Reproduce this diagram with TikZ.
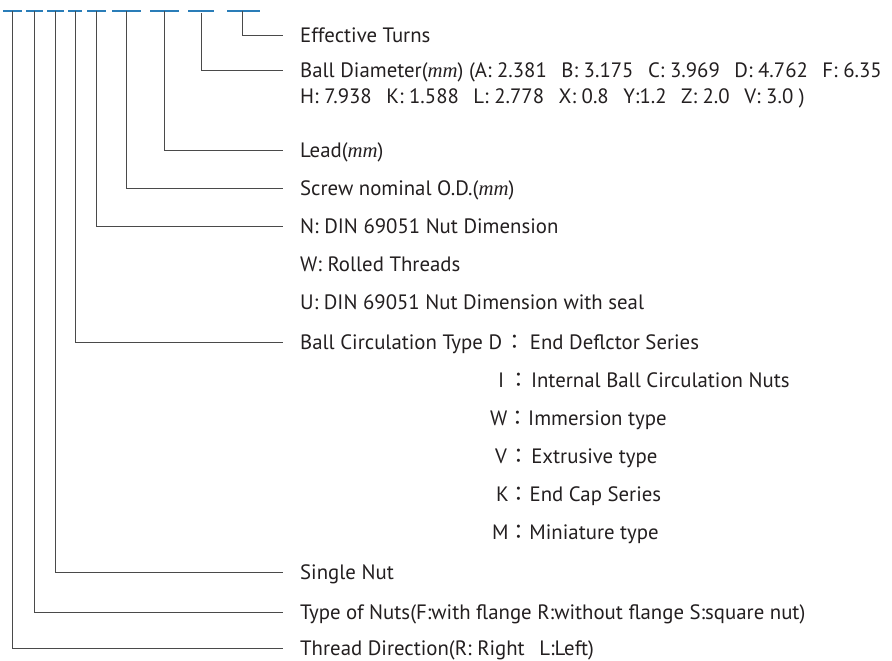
\documentclass[tikz,border=0pt]{standalone}
\usepackage{fontspec}
\setmainfont{PT Sans}
\newfontfamily\cjk{Noto Sans CJK JP}
\newfontfamily\mmfont{Liberation Serif}
\newcommand{\mmunit}{({\mmfont\itshape mm})}
\newcommand{\wide}{\hspace{0.7em}}
\definecolor{codeblue}{HTML}{2A7DB8}
\definecolor{leadgray}{HTML}{4A4A4A}
\definecolor{textgray}{HTML}{231F20}

\begin{document}
\begin{tikzpicture}[x=1pt,y=-1pt,
    codemark/.style={draw=codeblue, line width=1.1pt},
    leader/.style={draw=leadgray, line width=0.9pt},
    item/.style={anchor=west, inner sep=0pt, text height=14.5pt, text depth=0pt,
      text=textgray, font=\fontsize{20.8}{24}\selectfont}]
    \useasboundingbox (0,0) rectangle (892,661);

    % code places on top
    \foreach \a/\b/\n in {3/22/1, 26/43/2, 47/64/3, 68/82/4, 87/106/5,
        112/141/6, 150/179/7, 188/214/8, 227/260/9} {
        \draw[codemark] (\a,11) -- (\b,11);
    }
    \coordinate (c1) at (12.7,11);
    \coordinate (c2) at (34.7,11);
    \coordinate (c3) at (55.7,11);
    \coordinate (c4) at (75.3,11);
    \coordinate (c5) at (96.7,11);
    \coordinate (c6) at (126.7,11);
    \coordinate (c7) at (164.7,11);
    \coordinate (c8) at (201.3,13);
    \coordinate (c9) at (242.3,11);

    % labels
    \node[item] (turns) at (300,35) {Effective Turns};
    \node[item] (ball) at (300,70) {Ball Diameter\mmunit{} (A: 2.381\wide B: 3.175\wide C: 3.969\wide D: 4.762\wide F: 6.35};
    \node[item] (balltail) at (300,96) {H: 7.938\wide K: 1.588\wide L: 2.778\wide X: 0.8\wide Y:1.2\wide Z: 2.0\wide V: 3.0 )};
    \node[item] (lead) at (300,150) {Lead\mmunit};
    \node[item] (screw) at (300,188) {Screw nominal O.D.\mmunit};
    \node[item] (dinn) at (300,226) {N: DIN 69051 Nut Dimension};
    \node[item] (rolled) at (300,264) {W: Rolled Threads};
    \node[item] (dinu) at (300,302) {U: DIN 69051 Nut Dimension with seal};
    \node[item] (circ) at (300,342) {Ball Circulation Type D\hspace{2pt}{\cjk ：}\hspace{5pt}End Deflctor Series};
    \node[item] (circi) at (498,380) {I\hspace{4.5pt}{\cjk ：}\hspace{1.5pt}Internal Ball Circulation Nuts};
    \node[item] (circw) at (490,418) {W{\cjk ：}Immersion type};
    \node[item] (circv) at (495,456) {V\hspace{1pt}{\cjk ：}\hspace{2.5pt}Extrusive type};
    \node[item] (circk) at (496,494) {K{\cjk ：}End Cap Series};
    \node[item] (circm) at (492,532) {M{\cjk ：}Miniature type};
    \node[item] (single) at (300,572) {Single Nut};
    \node[item] (nuts) at (300,612) {Type of Nuts(F:with flange R:without flange S:square nut)};
    \node[item] (thread) at (300,648) {Thread Direction(R: Right\wide L:Left)};

    % leaders from code places to labels
    \draw[leader] (c9) |- ([xshift=-17pt]turns.west);
    \draw[leader] (c8) |- ([xshift=-17pt]ball.west);
    \draw[leader] (c7) |- ([xshift=-17pt]lead.west);
    \draw[leader] (c6) |- ([xshift=-17pt]screw.west);
    \draw[leader] (c5) |- ([xshift=-17pt]dinn.west);
    \draw[leader] (c4) |- ([xshift=-17pt]circ.west);
    \draw[leader] (c3) |- ([xshift=-17pt]single.west);
    \draw[leader] (c2) |- ([xshift=-17pt]nuts.west);
    \draw[leader] (c1) |- ([xshift=-17pt]thread.west);
\end{tikzpicture}
\end{document}
